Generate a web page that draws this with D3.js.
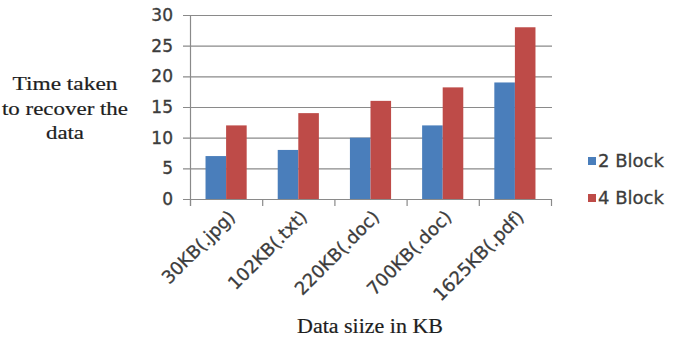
<!DOCTYPE html>
<html>
<head>
<meta charset="utf-8">
<script src="https://cdn.jsdelivr.net/npm/d3@7"></script>
<style>
  html, body { margin: 0; padding: 0; background: #fff; }
  svg { display: block; }
</style>
</head>
<body>
<svg id="chart" width="688" height="339"></svg>
<script>
// Recovery time per file, for 2-block and 4-block splits
const categories = ["30KB(.jpg)", "102KB(.txt)", "220KB(.doc)", "700KB(.doc)", "1625KB(.pdf)"];
const seriesNames = ["2 Block", "4 Block"];
const block2 = [7, 8, 10, 12, 19];
const block4 = [12, 14, 16, 18.2, 28];
const yTicks = [0, 5, 10, 15, 20, 25, 30];
const colors = ["#4a7ebb", "#be4b48"];

const rows = categories.map((c, i) => ({ cat: c, vals: [block2[i], block4[i]] }));

const svg = d3.select("#chart");
const plotLeft = 190, plotRight = 551, plotTop = 15, plotBottom = 199;

const x = d3.scaleBand().domain(categories).range([plotLeft, plotRight]).paddingInner(0).paddingOuter(0);
const groupW = x.bandwidth() * 0.57;
const xs = d3.scaleBand().domain(seriesNames).range([0, groupW]);
const y = d3.scaleLinear().domain([0, 30]).range([plotBottom, plotTop]);

const gridColor = "#8a8a8a";
const labelColor = "#3c3c3c";

// horizontal gridlines with short ticks left of the axis
svg.append("g").selectAll("line").data(yTicks).join("line")
  .attr("x1", plotLeft - 7).attr("x2", plotRight + 1)
  .attr("y1", d => y(d) + 0.5).attr("y2", d => y(d) + 0.5)
  .attr("stroke", gridColor).attr("stroke-width", 1.2);

// y tick labels
svg.append("g").selectAll("text").data(yTicks).join("text")
  .attr("x", 173).attr("y", d => y(d))
  .attr("dy", "0.36em")
  .attr("text-anchor", "end")
  .attr("font-family", "DejaVu Sans, sans-serif")
  .attr("font-size", 17)
  .attr("fill", labelColor)
  .attr("stroke", labelColor).attr("stroke-width", 0.35)
  .text(d => d);

// bars
const groups = svg.append("g").selectAll("g").data(rows).join("g")
  .attr("transform", d => `translate(${x(d.cat) + (x.bandwidth() - groupW) / 2},0)`);
groups.selectAll("rect").data(d => d.vals.map((v, i) => ({ v, s: seriesNames[i], i }))).join("rect")
  .attr("x", d => xs(d.s))
  .attr("width", xs.bandwidth())
  .attr("y", d => y(d.v))
  .attr("height", d => y(0) - y(d.v))
  .attr("fill", d => colors[d.i]);

// y axis line
svg.append("line")
  .attr("x1", plotLeft + 0.5).attr("x2", plotLeft + 0.5)
  .attr("y1", plotTop).attr("y2", plotBottom + 7)
  .attr("stroke", gridColor).attr("stroke-width", 1.2);

// x axis line and category boundary ticks
svg.append("line")
  .attr("x1", plotLeft).attr("x2", plotRight + 1)
  .attr("y1", y(0) + 0.5).attr("y2", y(0) + 0.5)
  .attr("stroke", gridColor).attr("stroke-width", 1.2);
const bounds = categories.map(c => x(c)).concat([x(categories[categories.length - 1]) + x.bandwidth()]);
svg.append("g").selectAll("line").data(bounds).join("line")
  .attr("x1", d => d + 0.5).attr("x2", d => d + 0.5)
  .attr("y1", plotBottom).attr("y2", plotBottom + 7)
  .attr("stroke", gridColor).attr("stroke-width", 1.2);

// rotated category labels
svg.append("g").selectAll("text").data(categories).join("text")
  .attr("transform", d => `translate(${x(d) + x.bandwidth() / 2 + 10},${plotBottom + 19}) rotate(-45)`)
  .attr("text-anchor", "end")
  .attr("font-family", "DejaVu Sans, sans-serif")
  .attr("font-size", 18)
  .attr("fill", labelColor)
  .attr("stroke", labelColor).attr("stroke-width", 0.3)
  .text(d => d);

// axis titles
const serif = "Liberation Serif, Times New Roman, serif";
const yTitle = [
  { t: "Time  taken", w: 105, yy: 90 },
  { t: "to recover the", w: 126, yy: 115 },
  { t: "data", w: 38, yy: 139 }
];
svg.append("g").selectAll("text").data(yTitle).join("text")
  .attr("x", 65).attr("y", d => d.yy)
  .attr("text-anchor", "middle")
  .attr("font-family", serif)
  .attr("font-size", 18)
  .attr("fill", "#1e1e1e")
  .attr("stroke", "#1e1e1e").attr("stroke-width", 0.2)
  .attr("textLength", d => d.w)
  .attr("lengthAdjust", "spacingAndGlyphs")
  .text(d => d.t);

svg.append("text")
  .attr("x", 370).attr("y", 333)
  .attr("text-anchor", "middle")
  .attr("font-family", serif)
  .attr("font-size", 20)
  .attr("fill", "#1e1e1e")
  .attr("stroke", "#1e1e1e").attr("stroke-width", 0.2)
  .attr("textLength", 146)
  .attr("lengthAdjust", "spacingAndGlyphs")
  .text("Data siize in KB");

// legend
const legend = svg.append("g").selectAll("g").data(seriesNames).join("g")
  .attr("transform", (d, i) => `translate(588,${161 + i * 37})`);
legend.append("rect")
  .attr("x", 0).attr("y", -4).attr("width", 8).attr("height", 8)
  .attr("fill", (d, i) => colors[i]);
legend.append("text")
  .attr("x", 10).attr("y", 0).attr("dy", "0.36em")
  .attr("font-family", "DejaVu Sans, sans-serif")
  .attr("font-size", 18)
  .attr("fill", labelColor)
  .attr("stroke", labelColor).attr("stroke-width", 0.3)
  .text(d => d);
</script>
</body>
</html>
